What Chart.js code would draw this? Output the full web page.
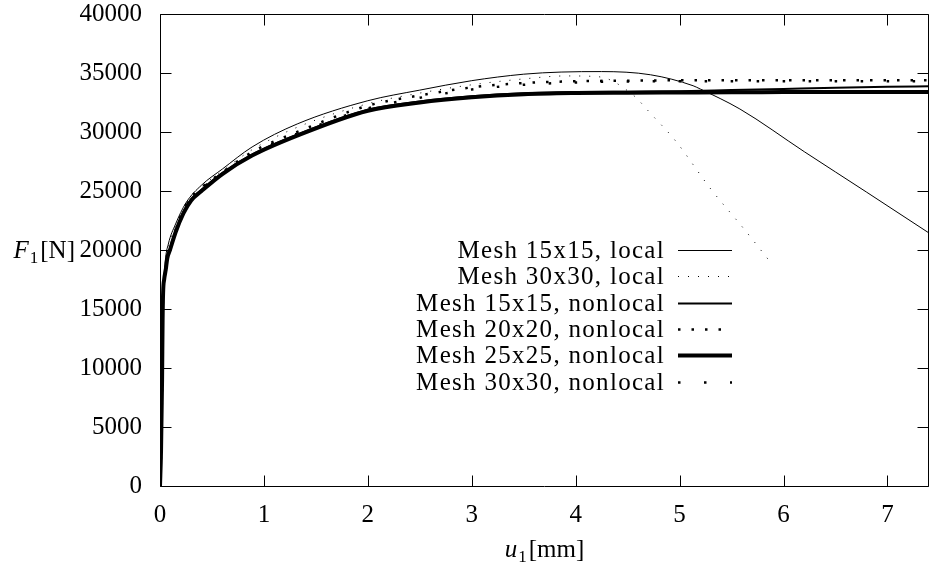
<!DOCTYPE html>
<html>
<head>
<meta charset="utf-8">
<script src="https://cdn.jsdelivr.net/npm/chart.js@4.4.1/dist/chart.umd.min.js"></script>
<style>
  html, body { margin: 0; padding: 0; background: #fff; }
  #wrap { width: 930px; height: 570px; }
</style>
</head>
<body>
<div id="wrap"><canvas id="chart" width="930" height="570"></canvas></div>
<script>
// Axis ticks
const uTicks = [0, 1, 2, 3, 4, 5, 6, 7];
const fTicks = [0, 5000, 10000, 15000, 20000, 25000, 30000, 35000, 40000];

// Mesh 15x15, local
const uLocal15 = [0, 0.01, 0.02, 0.03, 0.05, 0.08, 0.15, 0.25, 0.4, 0.6, 0.886, 1.32, 2.0, 2.5, 3.0, 3.5, 3.86, 4.25, 4.72, 5.13, 5.2, 5.58, 6.2, 6.8, 7.4];
const fLocal15 = [0, 5000, 11000, 16000, 19000, 20500, 22200, 24000, 25500, 26860, 28730, 30680, 32650, 33550, 34350, 34900, 35080, 35120, 34850, 33920, 33640, 31950, 28330, 24900, 21440];

// Mesh 30x30, local
const uLocal30 = [0, 0.01, 0.02, 0.03, 0.05, 0.1, 0.2, 0.4, 0.6, 0.886, 1.32, 2.0, 2.5, 3.0, 3.5, 3.9, 4.2, 4.35, 4.45, 4.57, 4.72, 4.96, 5.3, 5.62, 5.88];
const fLocal30 = [0, 4500, 10000, 15000, 18500, 20800, 22900, 25300, 26700, 28500, 30400, 32400, 33300, 34000, 34500, 34750, 34700, 34350, 33800, 33000, 31580, 29260, 25170, 21780, 18900];

// nonlocal meshes share one u grid
const uNonlocal = [0, 0.01, 0.02, 0.025, 0.03, 0.04, 0.055, 0.07, 0.096, 0.15, 0.225, 0.3, 0.4, 0.6, 0.886, 1.32, 2.0, 2.5, 3.0, 3.5, 4.0, 4.5, 5.0, 5.5, 6.0, 6.5, 7.0, 7.4];
const fNonlocal15 = [0, 3000, 9000, 14000, 16400, 17600, 18400, 19400, 20100, 21600, 23200, 24300, 25100, 26520, 28080, 29770, 31880, 32580, 33020, 33280, 33380, 33420, 33450, 33550, 33650, 33750, 33830, 33880];
const fNonlocal20 = [0, 3000, 9000, 14000, 16400, 17600, 18400, 19400, 20100, 21700, 23400, 24500, 25300, 26600, 28300, 30000, 32230, 33100, 33780, 34150, 34300, 34350, 34380, 34380, 34380, 34380, 34380, 34380];
const fNonlocal25 = [0, 3000, 9000, 14000, 16400, 17500, 18300, 19300, 20000, 21500, 23100, 24200, 25000, 26440, 28000, 29690, 31800, 32500, 32940, 33200, 33300, 33330, 33350, 33370, 33380, 33390, 33400, 33400];
const fNonlocal30 = [0, 3000, 9000, 14000, 16400, 17600, 18400, 19400, 20100, 21600, 23300, 24400, 25200, 26500, 28150, 29850, 32000, 32900, 33600, 34000, 34200, 34280, 34300, 34300, 34300, 34300, 34300, 34300];

const FONT = 'Liberation Serif';

function pts(us, fs) {
  return us.map((u, i) => ({ x: u, y: fs[i] }));
}

function series(label, us, fs, width, dash) {
  return {
    label: label,
    data: pts(us, fs),
    borderColor: '#000',
    borderWidth: width,
    borderDash: dash,
    borderCapStyle: 'butt',
    pointRadius: 0,
    cubicInterpolationMode: 'monotone',
    fill: false
  };
}

const datasets = [
  series('Mesh 15x15, local', uLocal15, fLocal15, 1, []),
  series('Mesh 30x30, local', uLocal30, fLocal30, 1, [1, 9]),
  series('Mesh 15x15, nonlocal', uNonlocal, fNonlocal15, 2, []),
  series('Mesh 20x20, nonlocal', uNonlocal, fNonlocal20, 2.5, [2.5, 11]),
  series('Mesh 25x25, nonlocal', uNonlocal, fNonlocal25, 4, []),
  series('Mesh 30x30, nonlocal', uNonlocal, fNonlocal30, 2.5, [2.5, 23.5])
];

// white page, gnuplot frame with inward ticks, key and axis titles
const gnuplotLook = {
  id: 'gnuplotLook',
  beforeDraw(chart) {
    const ctx = chart.ctx;
    ctx.save();
    ctx.fillStyle = '#fff';
    ctx.fillRect(0, 0, chart.width, chart.height);
    ctx.restore();
  },
  afterDatasetsDraw(chart) {
    const ctx = chart.ctx;
    const a = chart.chartArea;
    const xs = chart.scales.x, ys = chart.scales.y;
    const L = Math.round(a.left) + 0.5, R = Math.round(a.right) - 0.5;
    const T = Math.round(a.top) + 0.5, B = Math.round(a.bottom) + 0.5;
    const tl = 11;
    ctx.save();
    ctx.strokeStyle = '#000';
    ctx.lineWidth = 1;
    ctx.beginPath();
    ctx.rect(L, T, R - L, B - T);
    uTicks.forEach(v => {
      const px = Math.round(xs.getPixelForValue(v)) + 0.5;
      ctx.moveTo(px, B); ctx.lineTo(px, B - tl);
      ctx.moveTo(px, T); ctx.lineTo(px, T + tl);
    });
    fTicks.forEach(v => {
      const py = Math.round(ys.getPixelForValue(v)) + 0.5;
      ctx.moveTo(L, py); ctx.lineTo(L + tl, py);
      ctx.moveTo(R, py); ctx.lineTo(R - tl, py);
    });
    ctx.stroke();
    ctx.restore();
  },
  afterDraw(chart) {
    const ctx = chart.ctx;
    ctx.save();
    ctx.fillStyle = '#000';
    ctx.textBaseline = 'alphabetic';

    // key
    const textRight = 665, lineL = 678, lineR = 732;
    const rowY = 250, rowStep = 26.3;
    chart.data.datasets.forEach((ds, i) => {
      const y = rowY + i * rowStep;
      ctx.font = '25px "' + FONT + '"';
      ctx.letterSpacing = '1.3px';
      ctx.textAlign = 'right';
      ctx.fillText(ds.label, textRight, y + 8);
      ctx.letterSpacing = '0px';
      ctx.strokeStyle = '#000';
      ctx.lineWidth = ds.borderWidth;
      ctx.lineCap = 'butt';
      ctx.setLineDash(ds.borderDash);
      ctx.beginPath();
      ctx.moveTo(lineL, Math.round(y) + 0.5);
      ctx.lineTo(lineR, Math.round(y) + 0.5);
      ctx.stroke();
      ctx.setLineDash([]);
    });

    // axis titles: italic symbol, subscript, unit
    function drawTitle(sym, sub, unit, x, baseline, align) {
      ctx.textAlign = 'left';
      ctx.font = 'italic 25px "' + FONT + '"';
      const w1 = ctx.measureText(sym).width;
      ctx.font = '17px "' + FONT + '"';
      const w2 = ctx.measureText(sub).width;
      ctx.font = '25px "' + FONT + '"';
      const w3 = ctx.measureText(unit).width;
      const total = w1 + 1 + w2 + 2 + w3;
      let x0 = x;
      if (align === 'center') x0 = x - total / 2;
      if (align === 'right') x0 = x - total;
      ctx.font = 'italic 25px "' + FONT + '"';
      ctx.fillText(sym, x0, baseline);
      ctx.font = '17px "' + FONT + '"';
      ctx.fillText(sub, x0 + w1 + 1, baseline + 5);
      ctx.font = '25px "' + FONT + '"';
      ctx.fillText(unit, x0 + w1 + 1 + w2 + 2, baseline);
    }
    drawTitle('u', '1', '[mm]', (chart.chartArea.left + chart.chartArea.right) / 2, 557, 'center');
    drawTitle('F', '1', '[N]', 75, 258, 'right');
    ctx.restore();
  }
};

new Chart(document.getElementById('chart'), {
  type: 'line',
  data: { datasets: datasets },
  options: {
    responsive: false,
    devicePixelRatio: 1,
    animation: false,
    layout: { padding: { left: 0, right: 1, top: 14, bottom: 0 } },
    plugins: {
      legend: { display: false },
      tooltip: { enabled: false }
    },
    scales: {
      x: {
        type: 'linear',
        min: 0,
        max: 7.4,
        afterBuildTicks: s => { s.ticks = uTicks.map(v => ({ value: v })); },
        afterFit: s => { s.height = 84; s.paddingLeft = 0; s.paddingRight = 0; },
        grid: { display: false, drawTicks: false },
        border: { display: false },
        ticks: {
          color: '#000',
          padding: 14,
          maxRotation: 0,
          callback: v => String(v),
          font: { family: FONT, size: 25 }
        }
      },
      y: {
        type: 'linear',
        min: 0,
        max: 40000,
        afterBuildTicks: s => { s.ticks = fTicks.map(v => ({ value: v })); },
        afterFit: s => { s.width = 160; s.paddingTop = 0; s.paddingBottom = 0; },
        grid: { display: false, drawTicks: false },
        border: { display: false },
        ticks: {
          color: '#000',
          padding: 18,
          callback: v => String(v),
          font: { family: FONT, size: 25 }
        }
      }
    }
  },
  plugins: [gnuplotLook]
});
</script>
</body>
</html>
